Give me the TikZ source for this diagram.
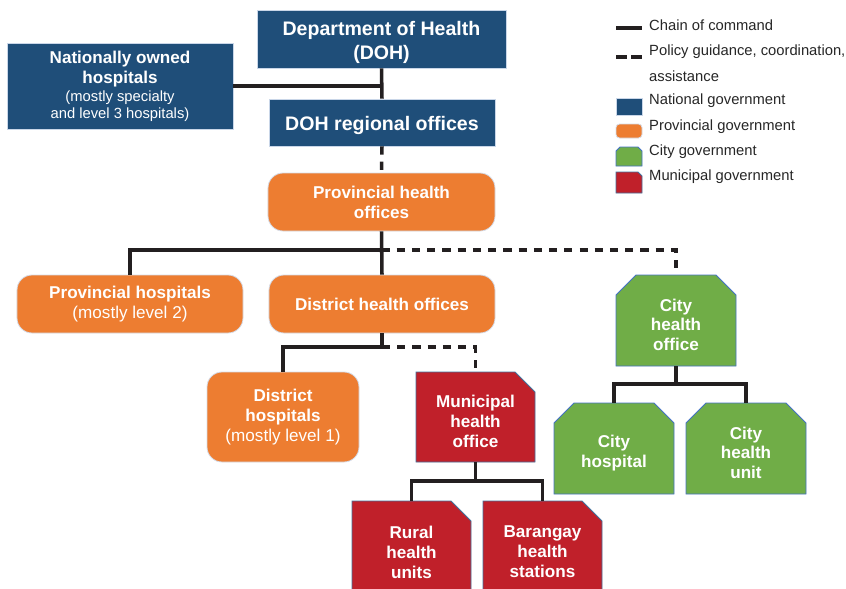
\documentclass[tikz,border=0pt]{standalone}
\usepackage{fontspec}
\setmainfont{Liberation Sans}
\usepackage{tikz}
\usetikzlibrary{shapes.misc}
\definecolor{natblue}{HTML}{1F4E79}
\definecolor{natline}{HTML}{C9D6E8}
\definecolor{provorange}{HTML}{ED7D31}
\definecolor{provline}{HTML}{D5DCE8}
\definecolor{citygreen}{HTML}{70AD47}
\definecolor{cityline}{HTML}{4472C4}
\definecolor{munired}{HTML}{C0202A}
\definecolor{muniline}{HTML}{41719C}
\definecolor{linegray}{HTML}{231F20}
\newcommand{\hospnote}[1]{{\mdseries #1}}
% taller first line, pushes the block of text a bit down in its box
\newcommand{\toppad}{\rule{0pt}{18pt}}
\tikzset{
  org-box/.style={text=white, align=center, line width=0.7pt, inner sep=2pt,
    font=\bfseries\fontsize{14.6}{17}\selectfont},
  org-national/.style={org-box, draw=natline, fill=natblue},
  org-province/.style={org-box, draw=provline, fill=provorange, rounded corners=0.45cm},
  org-city/.style={org-box, draw=cityline, fill=citygreen, chamfered rectangle,
    chamfered rectangle corners={north west,north east}, chamfered rectangle sep=0.3cm},
  org-municipal/.style={org-box, draw=muniline, fill=munired, chamfered rectangle,
    chamfered rectangle corners=north east, chamfered rectangle sep=0.3cm},
  org-command/.style={draw=linegray, line width=3pt},
  org-policy/.style={org-command, dash pattern=on 7pt off 6pt},
  org-legend/.style={anchor=west, text=black!85, align=left, inner sep=0pt,
    font=\fontsize{12.6}{21.8}\selectfont}
}

\begin{document}
\begin{tikzpicture}[x=0.03cm, y=-0.03cm]
  \useasboundingbox (0,0) rectangle (846,588);
  \clip (0,0) rectangle (846,588);

  % --- National government ---
  \node[org-national, minimum width=7.47cm, minimum height=1.74cm,
    font=\bfseries\fontsize{16.7}{20}\selectfont] (doh) at (381.5,39) {\toppad Department of Health\\(DOH)};
  \node[org-national, minimum width=6.78cm, minimum height=2.58cm] (nat) at (120,86)
    {Nationally owned\\hospitals\\[-1.4pt]\hospnote{\fontsize{12.6}{14.2}\selectfont(mostly specialty}\\[-2.8pt]%
     \hospnote{\fontsize{12.6}{14.2}\selectfont and level 3 hospitals)}};
  \node[org-national, minimum width=6.78cm, minimum height=1.41cm,
    font=\bfseries\fontsize{16.7}{20}\selectfont] (reg) at (382,122.5) {\toppad DOH regional offices};

  % --- Provincial government ---
  \node[org-province, minimum width=6.81cm, minimum height=1.74cm] (prov) at (381.5,202) {Provincial health\\offices};
  \node[org-province, minimum width=6.78cm, minimum height=1.74cm] (provhosp) at (130,304)
    {Provincial hospitals\\\hospnote{(mostly level 2)}};
  \node[org-province, minimum width=6.78cm, minimum height=1.74cm] (dho) at (382,304) {District health offices};
  \node[org-province, minimum width=4.56cm, minimum height=2.7cm] (dhosp) at (283,417)
    {District\\hospitals\\\hospnote{(mostly level 1)}};

  % --- Municipal government ---
  \node[org-municipal, minimum width=3.57cm, minimum height=2.7cm] (muni) at (475.5,417) {\toppad Municipal\\health\\office};
  \node[org-municipal, minimum width=3.57cm, minimum height=3.06cm] (rhu) at (411.5,552) {Rural\\health\\units};
  \node[org-municipal, minimum width=3.57cm, minimum height=3.06cm] (bhs) at (542.5,552) {Barangay\\health\\stations};

  % --- City government ---
  \node[org-city, minimum width=3.6cm, minimum height=2.73cm] (cho) at (676,320.5) {\toppad City\\health\\office};
  \node[org-city, minimum width=3.6cm, minimum height=2.73cm] (chosp) at (614,448.5) {\toppad City\\hospital};
  \node[org-city, minimum width=3.6cm, minimum height=2.73cm] (chu) at (746,448.5) {\toppad City\\health\\unit};

  % Junctions of the branching lines
  \coordinate (pj) at (381.5,250);
  \coordinate (dj) at (382,347);
  \coordinate (mj) at (475.5,481);
  \coordinate (cj) at (676,384);

  % Chain of command
  \draw[org-command] (doh.south) -- (reg.north);
  \draw[org-command] (nat.east) -- (nat.east -| doh.south);
  \draw[org-command] (prov.south) -- (dho.north);
  \draw[org-command] (pj) -| (provhosp.north);
  \draw[org-command] (dho.south) -- (dj) -| (dhosp.north);
  \draw[org-command] (muni.south) -- (mj);
  \draw[org-command] (rhu.north) |- (mj) -| (bhs.north);
  \draw[org-command] (cho.south) -- (cj);
  \draw[org-command] (chosp.north) |- (cj) -| (chu.north);

  % Policy guidance
  \draw[org-policy] (reg.south) -- (prov.north);
  \draw[org-policy] (pj) -| (cho.north);
  \draw[org-policy] (dj) -| (muni.north);

  % Legend
  \draw[org-command] (616,28) -- (642,28);
  \draw[org-policy, dash pattern=on 9pt off 4pt] (616,57) -- (642,57);
  \filldraw[fill=natblue, draw=natline, line width=0.7pt] (616,98) rectangle (642,115);
  \filldraw[fill=provorange, draw=provline, line width=0.7pt, rounded corners=3pt] (616,124) rectangle (642,138);
  \filldraw[fill=citygreen, draw=cityline, line width=0.7pt]
    (616,166) -- (616,151) -- (620,147) -- (638,147) -- (642,151) -- (642,166) -- cycle;
  \filldraw[fill=munired, draw=muniline, line width=0.7pt]
    (616,193) -- (616,172) -- (638,172) -- (642,176) -- (642,193) -- cycle;
  \node[org-legend] (lchain) at (649,25) {Chain of command};
  \node[org-legend] (lpolicy) at (649,63) {Policy guidance, coordination,\\assistance};
  \node[org-legend] (lnat) at (649,101) {National government};
  \node[org-legend] (lprov) at (649,126.5) {Provincial government};
  \node[org-legend] (lcity) at (649,152) {City government};
  \node[org-legend] (lmuni) at (649,177) {Municipal government};
\end{tikzpicture}
\end{document}
